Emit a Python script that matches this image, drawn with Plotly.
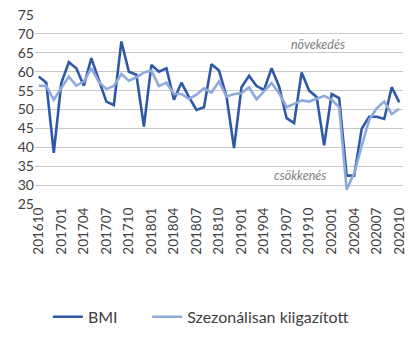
import plotly.graph_objects as go

# Monthly periods, 2016-10 .. 2020-10
periods = []
y, m = 2016, 10
while (y, m) <= (2020, 10):
    periods.append(f"{y}{m:02d}")
    m += 1
    if m > 12:
        y, m = y + 1, 1

bmi = [58.7, 57.1, 38.5, 57.0, 62.5, 60.9, 56.3, 63.6, 57.8, 52.1,
       51.2, 68.0, 60.0, 59.2, 45.5, 61.8, 60.0, 60.9, 52.6, 57.1,
       53.3, 49.9, 50.6, 62.0, 60.3, 53.4, 39.8, 55.9, 58.9, 56.2,
       55.2, 60.9, 56.1, 47.7, 46.4, 59.8, 55.0, 53.3, 40.5, 54.1,
       53.0, 32.5, 32.5, 44.9, 48.1, 48.1, 47.5, 55.9, 51.9]

seasonal = [56.3, 56.2, 52.6, 55.6, 58.7, 56.3, 57.4, 60.9, 57.3, 55.4,
            56.2, 59.4, 57.6, 58.5, 59.8, 60.3, 56.2, 57.1, 54.1, 54.1,
            52.8, 53.9, 55.6, 54.5, 57.4, 53.4, 54.1, 54.3, 55.9, 52.7,
            55.0, 57.0, 54.3, 50.6, 51.5, 52.4, 52.1, 52.8, 53.6, 52.6,
            50.6, 28.8, 33.2, 40.3, 47.3, 50.3, 52.1, 48.8, 50.2]

tick_labels = periods[::3]

FONT = "Lato, 'Open Sans', sans-serif"

fig = go.Figure()
fig.add_trace(go.Scatter(x=periods, y=bmi, mode="lines", name="BMI" + "\u00a0" * 6,
                         line=dict(color="#2f58a6", width=2.6)))
fig.add_trace(go.Scatter(x=periods, y=seasonal, mode="lines",
                         name="Szezonálisan kiigazított",
                         line=dict(color="#8eaadc", width=2.6)))

fig.add_annotation(x=37.2, y=67.1, text="<i>növekedés</i>", showarrow=False,
                   font=dict(size=12.5, color="#7f7f7f", family=FONT))
fig.add_annotation(x=34.8, y=32.6, text="<i>csökkenés</i>", showarrow=False,
                   font=dict(size=12.5, color="#7f7f7f", family=FONT))

fig.update_layout(
    width=418, height=337,
    margin=dict(l=35, r=15, t=15, b=133),
    paper_bgcolor="white", plot_bgcolor="white",
    font=dict(family=FONT, size=13, color="#404040"),
    showlegend=True,
    legend=dict(orientation="h", x=0.035, xanchor="left",
                yref="container", y=0.06, yanchor="middle",
                font=dict(size=16, color="#404040")),
)
fig.update_xaxes(type="category", range=[-0.5, len(periods) - 0.5],
                 tickmode="array", tickvals=tick_labels, ticktext=tick_labels,
                 tickangle=-90, showgrid=False, showline=False, automargin=False,
                 ticks="", ticklen=0, tickfont=dict(size=13.5, color="#404040"))
fig.update_yaxes(range=[25, 75], dtick=5, showgrid=True, gridcolor="#c8c8c8",
                 gridwidth=1, zeroline=False, showline=False, ticks="", automargin=False,
                 tickfont=dict(size=14, color="#404040"))

fig.write_html("out.html")
